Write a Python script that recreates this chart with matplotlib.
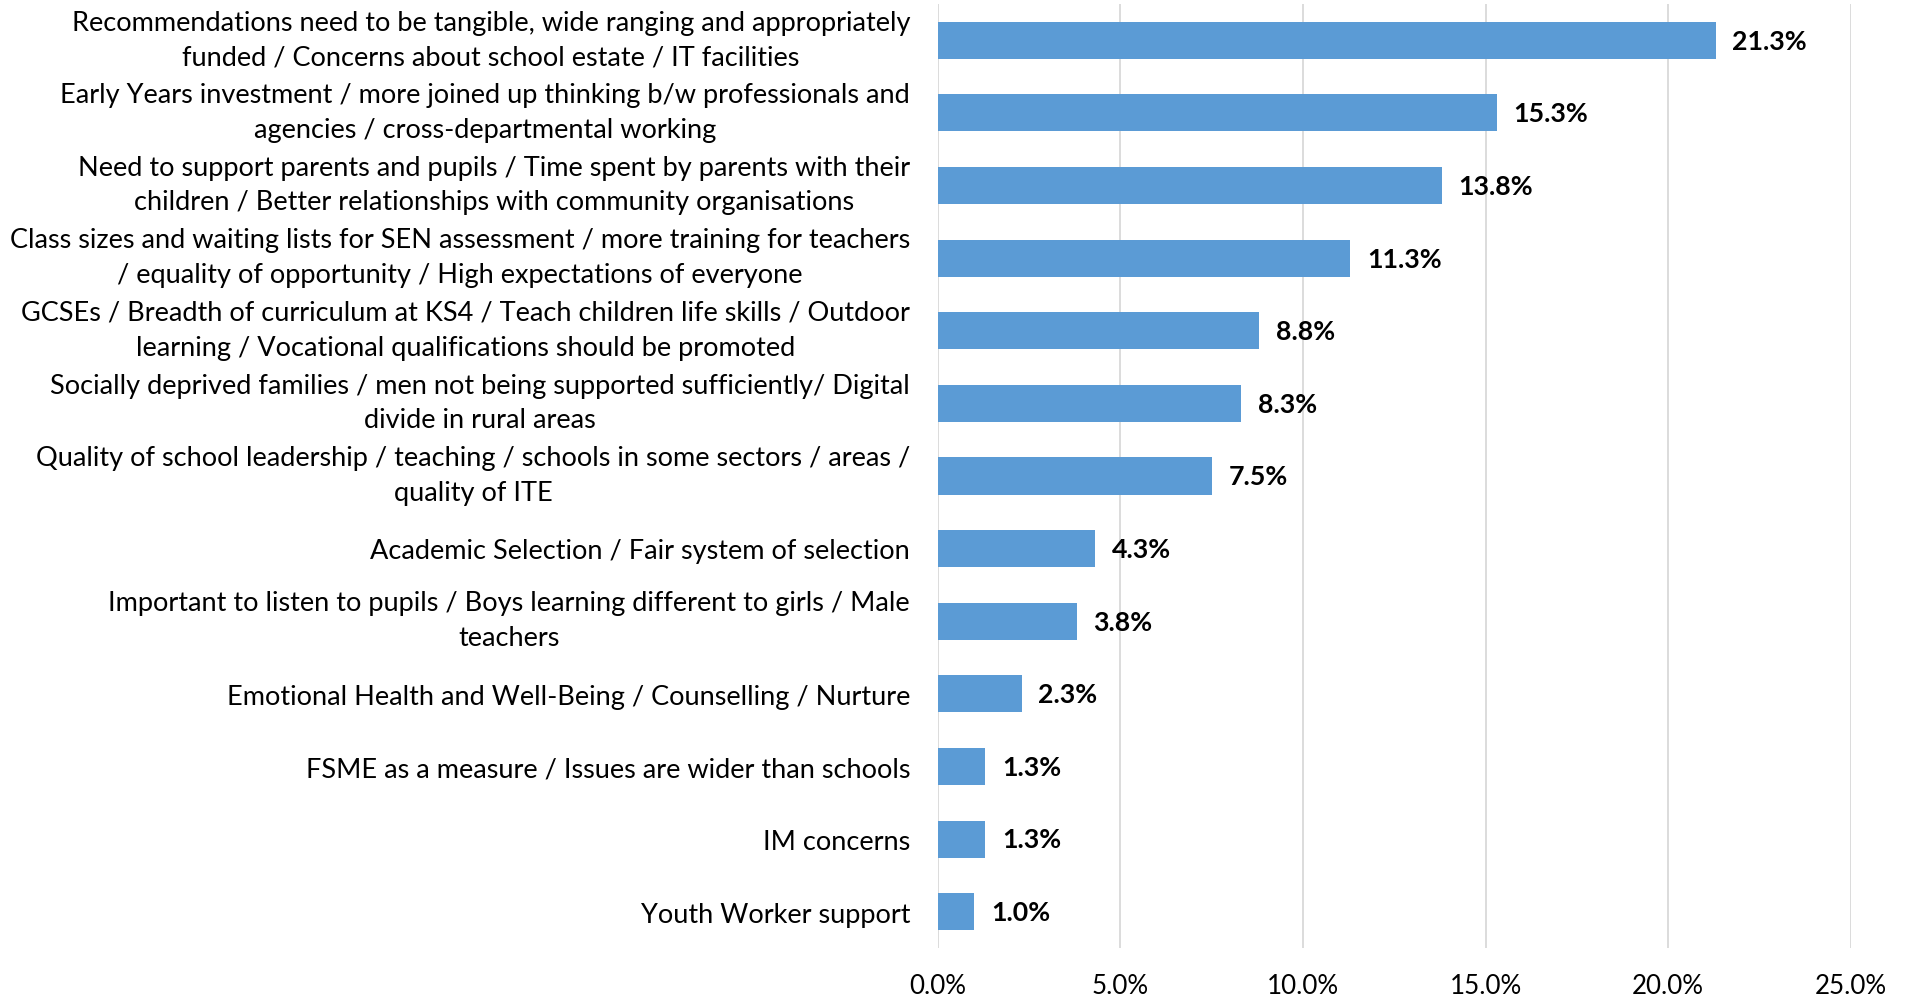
import matplotlib.pyplot as plt
from matplotlib.ticker import FuncFormatter

categories = [
    "Recommendations need to be tangible, wide ranging and appropriately\nfunded / Concerns about school estate / IT facilities",
    "Early Years investment / more joined up thinking b/w professionals and\nagencies / cross-departmental working",
    "Need to support parents and pupils / Time spent by parents with their\nchildren / Better relationships with community organisations",
    "Class sizes and waiting lists for SEN assessment / more training for teachers\n/ equality of opportunity / High expectations of everyone",
    "GCSEs / Breadth of curriculum at KS4 / Teach children life skills / Outdoor\nlearning / Vocational qualifications should be promoted",
    "Socially deprived families / men not being supported sufficiently/ Digital\ndivide in rural areas",
    "Quality of school leadership / teaching / schools in some sectors / areas /\nquality of ITE",
    "Academic Selection / Fair system of selection",
    "Important to listen to pupils / Boys learning different to girls / Male\nteachers",
    "Emotional Health and Well-Being / Counselling / Nurture",
    "FSME as a measure / Issues are wider than schools",
    "IM concerns",
    "Youth Worker support",
]
percent = [21.3, 15.3, 13.8, 11.3, 8.8, 8.3, 7.5, 4.3, 3.8, 2.3, 1.3, 1.3, 1.0]

plt.rcParams['font.family'] = ['Lato', 'DejaVu Sans']

fig = plt.figure(figsize=(19.1, 10), dpi=100)
ax = fig.add_axes([0.491, 0.052, 0.478, 0.944])

y = list(range(len(categories)))
ax.barh(y, percent, height=0.51, color='#5b9bd5', zorder=3)

for yi, v in zip(y, percent):
    ax.annotate(f"{v:.1f}%", (v, yi), xytext=(12, -1), textcoords='offset points',
                va='center', ha='left', fontsize=19.3, fontweight='bold', color='black')

# category labels, drawn by hand so the line breaks stay centred
for yi, cat in zip(y, categories):
    dy = 0 if '\n' in cat else -2.4
    ax.annotate(cat, (0, yi), xycoords=('axes fraction', 'data'),
                xytext=(-20, dy), textcoords='offset points',
                ha='right', va='center', multialignment='center',
                linespacing=1.48, fontsize=19.5, color='black')

ax.set_xlim(0, 25)
ax.set_ylim(len(categories) - 0.5, -0.5)
ax.set_xticks([0, 5, 10, 15, 20, 25])
ax.xaxis.set_major_formatter(FuncFormatter(lambda v, p: f"{v:.1f}%"))
ax.set_yticks(y)
ax.set_yticklabels([])

ax.grid(axis='x', color='#d9d9d9', linewidth=1.3, zorder=0)
for s in ax.spines.values():
    s.set_visible(False)
ax.tick_params(axis='both', length=0, colors='black')
ax.tick_params(axis='x', labelsize=18.7, pad=19)

fig.savefig('out.png', dpi=100)
